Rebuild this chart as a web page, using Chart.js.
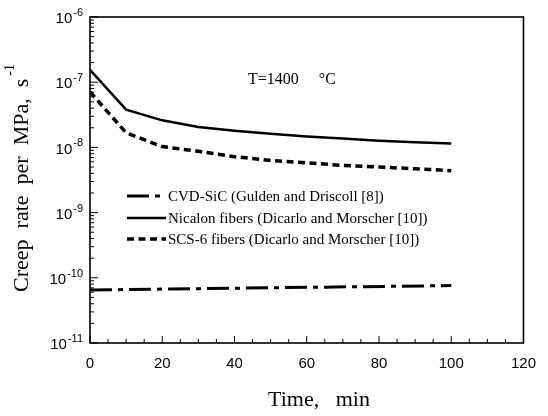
<!DOCTYPE html>
<html><head><meta charset="utf-8">
<script src="https://cdn.jsdelivr.net/npm/chart.js@4/dist/chart.umd.min.js"></script>
<style>html,body{margin:0;padding:0;background:#fff}#wrap{width:548px;height:416px}</style>
</head><body><div id="wrap"><canvas id="c" width="548" height="416"></canvas></div>
<script>
// ---- data ----
const timeMin = [0, 10, 20, 30, 40, 50, 60, 70, 80, 90, 100];
const nicalonRate = [1.55e-7, 3.8e-8, 2.6e-8, 2.05e-8, 1.8e-8, 1.62e-8, 1.47e-8, 1.37e-8, 1.27e-8, 1.2e-8, 1.15e-8];
const scs6Rate = [7.1e-8, 1.67e-8, 1.03e-8, 8.7e-9, 7.2e-9, 6.3e-9, 5.8e-9, 5.3e-9, 5.0e-9, 4.7e-9, 4.4e-9];
const cvdTime = [0, 100];
const cvdRate = [6.5e-11, 7.6e-11];
const xTickLabels = ['0', '20', '40', '60', '80', '100', '120'];
const yDecades = [-11, -10, -9, -8, -7, -6];
const seriesNames = [
  'CVD-SiC (Gulden and Driscoll [8])',
  'Nicalon fibers (Dicarlo and Morscher [10])',
  'SCS-6 fibers (Dicarlo and Morscher [10])'
];
const yTitle = 'Creep  rate  per  MPa,  s';
const yTitleSup = '-1';
const xTitle = 'Time,   min';
const note = 'T=1400     \u00B0C';

const SERIF = '"Liberation Serif", "Times New Roman", serif';
const SANS = '"Liberation Sans", Arial, sans-serif';

const toXY = (xs, ys) => xs.map((v, i) => ({x: v, y: ys[i]}));

const datasets = [
  {label: seriesNames[0], data: toXY(cvdTime, cvdRate), borderColor: '#000', borderWidth: 3, borderDash: [22, 6, 5, 6]},
  {label: seriesNames[1], data: toXY(timeMin, nicalonRate), borderColor: '#000', borderWidth: 2.5, borderDash: []},
  {label: seriesNames[2], data: toXY(timeMin, scs6Rate), borderColor: '#000', borderWidth: 3.5, borderDash: [7, 4.5]}
];

function seg(ctx, x1, y1, x2, y2) { ctx.beginPath(); ctx.moveTo(x1, y1); ctx.lineTo(x2, y2); ctx.stroke(); }

const deco = {
  id: 'deco',
  afterDraw(chart) {
    const {ctx, chartArea: a, scales: {x, y}} = chart;
    ctx.save();
    ctx.strokeStyle = '#000';
    ctx.fillStyle = '#000';
    ctx.setLineDash([]);
    // frame
    ctx.lineWidth = 1.6;
    ctx.strokeRect(a.left, a.top, a.right - a.left, a.bottom - a.top);
    // x ticks (inward)
    ctx.lineWidth = 1;
    for (let t = 0; t <= 120; t += 5) {
      const px = x.getPixelForValue(t);
      seg(ctx, px, a.bottom, px, a.bottom - (t % 20 === 0 ? 7 : 4));
    }
    // y ticks (inward, log minor)
    yDecades.forEach(d => {
      const py = y.getPixelForValue(Math.pow(10, d));
      seg(ctx, a.left, py, a.left + 8, py);
      if (d < -6) {
        for (let m = 2; m <= 9; m++) {
          const pm = y.getPixelForValue(m * Math.pow(10, d));
          seg(ctx, a.left, pm, a.left + 4, pm);
        }
      }
    });
    // y tick labels with superscripts
    ctx.textBaseline = 'middle';
    ctx.textAlign = 'right';
    yDecades.forEach(d => {
      const py = y.getPixelForValue(Math.pow(10, d));
      const exp = String(d);
      ctx.font = '11px ' + SANS;
      const ew = ctx.measureText(exp).width;
      ctx.fillText(exp, a.left - 7, py - 4);
      ctx.font = '15px ' + SANS;
      ctx.fillText('10', a.left - 8 - ew, py + 2);
    });
    // y title
    ctx.save();
    ctx.translate(22, 178);
    ctx.rotate(-Math.PI / 2);
    ctx.font = '22px ' + SERIF;
    const tw = ctx.measureText(yTitle).width;
    ctx.font = '14px ' + SERIF;
    const sw = ctx.measureText(yTitleSup).width;
    const start = -(tw + sw + 3) / 2;
    ctx.textAlign = 'left';
    ctx.textBaseline = 'middle';
    ctx.font = '22px ' + SERIF;
    ctx.fillText(yTitle, start, 0);
    ctx.font = '14px ' + SERIF;
    ctx.fillText(yTitleSup, start + tw + 3, -12);
    ctx.restore();
    // x title
    ctx.font = '22px ' + SERIF;
    ctx.textAlign = 'center';
    ctx.textBaseline = 'middle';
    ctx.fillText(xTitle, 319, 400);
    // annotation
    ctx.font = '16px ' + SERIF;
    ctx.textAlign = 'left';
    ctx.fillText(note, 248, 80);
    // legend
    const rows = [196, 218, 239];
    chart.data.datasets.forEach((ds, i) => {
      ctx.save();
      ctx.lineWidth = ds.borderWidth;
      ctx.setLineDash(ds.borderDash || []);
      seg(ctx, 127, rows[i], 166, rows[i]);
      ctx.restore();
      ctx.font = '15px ' + SERIF;
      ctx.textAlign = 'left';
      ctx.textBaseline = 'middle';
      ctx.fillText(ds.label, 168, rows[i] + 1);
    });
    ctx.restore();
  }
};

new Chart(document.getElementById('c'), {
  type: 'line',
  data: {datasets},
  options: {
    responsive: false,
    animation: false,
    layout: {padding: {left: 0, right: 17, top: 17, bottom: 0}},
    elements: {point: {radius: 0}, line: {tension: 0, fill: false}},
    plugins: {legend: {display: false}, tooltip: {enabled: false}},
    scales: {
      x: {
        type: 'linear', min: 0, max: 120,
        grid: {display: false, drawTicks: false},
        border: {display: false},
        ticks: {stepSize: 20, padding: 12, color: '#000', font: {family: SANS, size: 15},
          callback: (v) => xTickLabels[Math.round(v / 20)] ?? ''},
        afterFit: (s) => { s.height = 73; }
      },
      y: {
        type: 'logarithmic', min: 1e-11, max: 1e-6,
        grid: {display: false, drawTicks: false},
        border: {display: false},
        ticks: {display: false},
        afterFit: (s) => { s.width = 90; }
      }
    }
  },
  plugins: [deco]
});
</script>
</body></html>
